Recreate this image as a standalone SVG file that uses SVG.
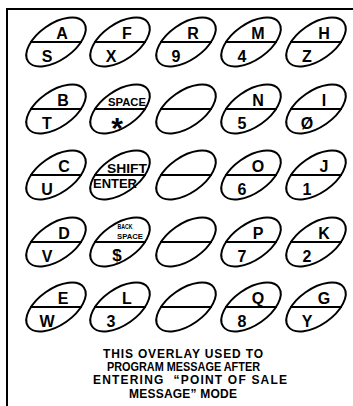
<svg xmlns="http://www.w3.org/2000/svg" xmlns:xlink="http://www.w3.org/1999/xlink" width="353" height="406" viewBox="0 0 353 406">
<style>
.sh{fill:none;stroke:#000;stroke-width:2}
.t{font-family:"Liberation Sans",Arial,sans-serif;font-weight:bold;fill:#000}
.k{font-size:16px;text-anchor:middle}
.s{text-anchor:middle}
.note{font-size:12px;text-anchor:middle}
</style>
<defs>
<g id="shell">
<ellipse class="sh" cx="0" cy="0" rx="34" ry="18" transform="rotate(-35)"/>
<line class="sh" x1="-26" y1="0" x2="26" y2="0"/>
</g>
</defs>
<rect width="353" height="406" fill="#fff"/>
<g id="frame">
<line class="sh" x1="7" y1="9" x2="353" y2="9"/>
<line class="sh" x1="7" y1="8" x2="7" y2="406"/>
</g>
<g id="connectors"></g>
<!-- Row 1 -->
<g id="key-A-S" transform="translate(56,42)"><use xlink:href="#shell"/><text class="t k" x="6" y="-3">A</text><text class="t k" x="-9" y="20">S</text></g>
<g id="key-F-X" transform="translate(120,42)"><use xlink:href="#shell"/><text class="t k" x="7" y="-3">F</text><text class="t k" x="-9" y="20">X</text></g>
<g id="key-R-9" transform="translate(186,42)"><use xlink:href="#shell"/><text class="t k" x="7" y="-3">R</text><text class="t k" x="-10" y="20">9</text></g>
<g id="key-M-4" transform="translate(251,42)"><use xlink:href="#shell"/><text class="t k" x="7" y="-3">M</text><text class="t k" x="-9" y="20">4</text></g>
<g id="key-H-Z" transform="translate(316,42)"><use xlink:href="#shell"/><text class="t k" x="8" y="-3">H</text><text class="t k" x="-9" y="20">Z</text></g>
<!-- Row 2 -->
<g id="key-B-T" transform="translate(56,109)"><use xlink:href="#shell"/><text class="t k" x="7" y="-3">B</text><text class="t k" x="-9" y="20">T</text></g>
<g id="key-SPACE" transform="translate(120,109)"><use xlink:href="#shell"/><text class="t s" x="7" y="-3" font-size="10" textLength="38" lengthAdjust="spacingAndGlyphs">SPACE</text><text class="t s" x="-3" y="29" font-size="30">*</text></g>
<g id="key-blank-2" transform="translate(186,109)"><use xlink:href="#shell"/></g>
<g id="key-N-5" transform="translate(251,109)"><use xlink:href="#shell"/><text class="t k" x="7" y="-3">N</text><text class="t k" x="-9" y="20">5</text></g>
<g id="key-I-0" transform="translate(316,109)"><use xlink:href="#shell"/><text class="t k" x="8" y="-3">I</text><text class="t k" x="-9" y="20">Ø</text></g>
<!-- Row 3 -->
<g id="key-C-U" transform="translate(56,175)"><use xlink:href="#shell"/><text class="t k" x="8" y="-3">C</text><text class="t k" x="-9" y="20">U</text></g>
<g id="key-SHIFT-ENTER" transform="translate(120,175)"><use xlink:href="#shell"/><text class="t s" x="7" y="-2" font-size="12" textLength="40" lengthAdjust="spacingAndGlyphs">SHIFT</text><text class="t s" x="-5" y="13" font-size="12" textLength="44" lengthAdjust="spacingAndGlyphs">ENTER</text></g>
<g id="key-blank-3" transform="translate(186,175)"><use xlink:href="#shell"/></g>
<g id="key-O-6" transform="translate(251,175)"><use xlink:href="#shell"/><text class="t k" x="7" y="-3">O</text><text class="t k" x="-9" y="20">6</text></g>
<g id="key-J-1" transform="translate(316,175)"><use xlink:href="#shell"/><text class="t k" x="8" y="-3">J</text><text class="t k" x="-9" y="20">1</text></g>
<!-- Row 4 -->
<g id="key-D-V" transform="translate(56,242)"><use xlink:href="#shell"/><text class="t k" x="8" y="-3">D</text><text class="t k" x="-9" y="20">V</text></g>
<g id="key-BACKSPACE" transform="translate(120,242)"><use xlink:href="#shell"/><text class="t s" x="5" y="-13" font-size="8" textLength="15" lengthAdjust="spacingAndGlyphs">BACK</text><text class="t s" x="10" y="-3" font-size="8" textLength="26" lengthAdjust="spacingAndGlyphs">SPACE</text><text class="t s" x="-3" y="19" font-size="17">$</text></g>
<g id="key-blank-4" transform="translate(186,242)"><use xlink:href="#shell"/></g>
<g id="key-P-7" transform="translate(251,242)"><use xlink:href="#shell"/><text class="t k" x="7" y="-3">P</text><text class="t k" x="-9" y="20">7</text></g>
<g id="key-K-2" transform="translate(316,242)"><use xlink:href="#shell"/><text class="t k" x="8" y="-3">K</text><text class="t k" x="-9" y="20">2</text></g>
<!-- Row 5 -->
<g id="key-E-W" transform="translate(56,307)"><use xlink:href="#shell"/><text class="t k" x="7" y="-3">E</text><text class="t k" x="-9" y="20">W</text></g>
<g id="key-L-3" transform="translate(120,307)"><use xlink:href="#shell"/><text class="t k" x="7" y="-3">L</text><text class="t k" x="-9" y="20">3</text></g>
<g id="key-blank-5" transform="translate(186,307)"><use xlink:href="#shell"/></g>
<g id="key-Q-8" transform="translate(251,307)"><use xlink:href="#shell"/><text class="t k" x="7" y="-3">Q</text><text class="t k" x="-9" y="20">8</text></g>
<g id="key-G-Y" transform="translate(316,307)"><use xlink:href="#shell"/><text class="t k" x="8" y="-3">G</text><text class="t k" x="-9" y="20">Y</text></g>
<g id="note">
<text class="t note" x="183" y="358" textLength="160" lengthAdjust="spacing">THIS OVERLAY USED TO</text>
<text class="t note" x="183.5" y="371" textLength="153" lengthAdjust="spacingAndGlyphs">PROGRAM MESSAGE AFTER</text>
<text class="t note" x="190" y="384" textLength="194" lengthAdjust="spacing" xml:space="preserve">ENTERING  “POINT OF SALE</text>
<text class="t note" x="183" y="398" textLength="108" lengthAdjust="spacing">MESSAGE” MODE</text>
</g>
</svg>
